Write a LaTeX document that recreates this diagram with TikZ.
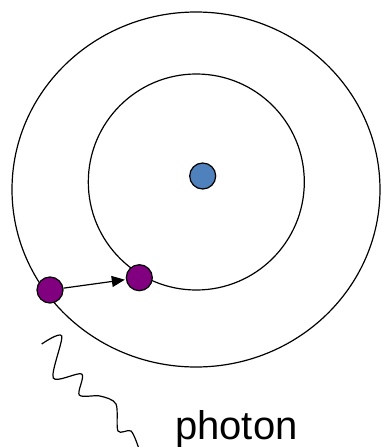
\documentclass[tikz,border=0pt]{standalone}
\usepackage{fontspec}
\setmainfont{Liberation Sans}
\usetikzlibrary{arrows.meta}
\definecolor{kernblau}{HTML}{4F81BD}
\definecolor{elektronlila}{HTML}{800080}
\tikzset{
  bahn/.style={draw, line width=1.2pt},
  teilchen/.style={circle, draw, line width=1.2pt, inner sep=0pt, minimum size=26pt},
}
\begin{document}
\begin{tikzpicture}[x=1pt, y=-1pt]
    \useasboundingbox (0,0) rectangle (382,447);
    % Schalen
    \draw[bahn] (196,189.5) ellipse [x radius=184, y radius=177.5];
    \draw[bahn] (196.3,182) circle [radius=108];
    % Kern
    \node[teilchen, fill=kernblau] (kern) at (202.7,176) {};
    % Elektronen
    \node[teilchen, fill=elektronlila] (eA) at (50,290) {};
    \node[teilchen, fill=elektronlila] (eB) at (139.3,277.7) {};
    \draw[line width=1.2pt, -{Triangle[length=13pt, width=11pt]}, shorten >=1pt] (eA) -- (eB);
    % Photon
    \coordinate (phA) at (41.7,344);
    \coordinate (phB) at (138.3,447);
    \draw[line width=1.2pt] plot[smooth, tension=0.5] coordinates {(phA) (61.7,336) (53.3,378) (81.7,374) (79.3,395) (100,396) (116,404) (118,431) (131,431) (phB)};
    \node[anchor=base west, inner sep=0pt, font=\fontsize{40}{44}\selectfont] (photon) at (175,439) {photon};
\end{tikzpicture}
\end{document}
